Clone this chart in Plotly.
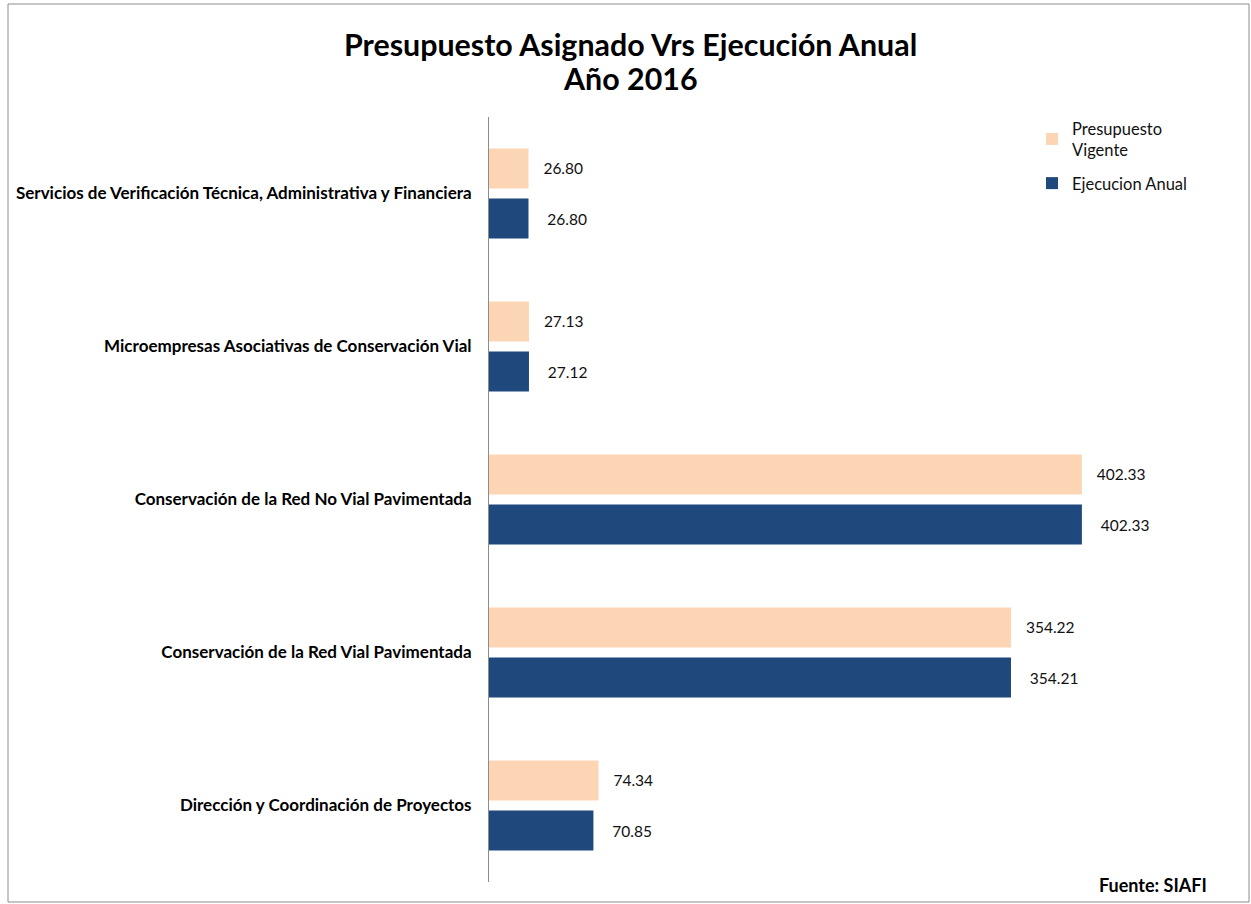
import plotly.graph_objects as go

categories = [
    "Servicios de Verificación Técnica, Administrativa y Financiera",
    "Microempresas Asociativas de Conservación Vial",
    "Conservación de la Red No Vial Pavimentada",
    "Conservación de la Red Vial Pavimentada",
    "Dirección y Coordinación de Proyectos",
]
presupuesto_vigente = [26.80, 27.13, 402.33, 354.22, 74.34]
ejecucion_anual = [26.80, 27.12, 402.33, 354.21, 70.85]

FONT = "Lato"
NB = "\u00a0"

fig = go.Figure()
fig.add_trace(go.Bar(
    y=categories, x=presupuesto_vigente, orientation="h",
    name="Presupuesto<br>Vigente", legendgroup="a",
    marker=dict(color="#FCD5B5", line=dict(width=0)),
    texttemplate=NB * 3 + "%{x:.2f}", textposition="outside", cliponaxis=False,
    textfont=dict(family=FONT, size=15.5, color="#111111"),
))
fig.add_trace(go.Bar(
    y=categories, x=ejecucion_anual, orientation="h",
    name="Ejecucion Anual", legendgroup="b",
    marker=dict(color="#1F497D", line=dict(width=0)),
    texttemplate=NB * 4 + "%{x:.2f}", textposition="outside", cliponaxis=False,
    textfont=dict(family=FONT, size=15.5, color="#111111"),
))

fig.update_layout(
    width=1251, height=904,
    margin=dict(l=489, r=62, t=117, b=22),
    paper_bgcolor="white", plot_bgcolor="white",
    barmode="group", bargap=0.346, bargroupgap=0.2,
    font=dict(family=FONT, color="#000000"),
    xaxis=dict(range=[0, 475], visible=False, fixedrange=True),
    yaxis=dict(
        autorange="reversed", showline=True, linecolor="#8c8c8c", linewidth=1,
        ticks="", showgrid=False, ticklabelstandoff=13,
        tickfont=dict(family=FONT, size=17, color="#000000", weight="bold"),
    ),
    legend=dict(
        x=(1032 - 489) / 700, xanchor="left", y=1 + 6 / 765, yanchor="top",
        font=dict(family=FONT, size=16.5, color="#111111"),
        itemwidth=30, traceorder="grouped", tracegroupgap=9,
        bgcolor="rgba(0,0,0,0)",
    ),
    showlegend=True,
    shapes=[dict(
        type="rect", xref="paper", yref="paper",
        x0=(8 - 489) / 700, x1=(1249 - 489) / 700,
        y0=(882 - 902) / 765, y1=(882 - 4) / 765,
        line=dict(color="#8c8c8c", width=1), fillcolor="rgba(0,0,0,0)", layer="below",
    )],
    annotations=[
        dict(
            text="<b>Presupuesto Asignado Vrs Ejecución Anual</b>",
            xref="paper", yref="paper",
            x=(630 - 489) / 700, xanchor="center", y=(882 - 44) / 765, yanchor="middle",
            showarrow=False, font=dict(family=FONT, size=30.4, color="#000000"),
        ),
        dict(
            text="<b>Año 2016</b>",
            xref="paper", yref="paper",
            x=(630 - 489) / 700, xanchor="center", y=(882 - 78) / 765, yanchor="middle",
            showarrow=False, font=dict(family=FONT, size=30.4, color="#000000"),
        ),
        dict(
            text="<b>Fuente: SIAFI</b>", xref="paper", yref="paper",
            x=(1209 - 489) / 700, xanchor="right", y=(882 - 885) / 765, yanchor="middle",
            showarrow=False, font=dict(family=FONT, size=18, color="#000000"),
        ),
    ],
)

fig.write_html("out.html", config={"displayModeBar": False},
               post_script="document.body.style.margin='0';")
